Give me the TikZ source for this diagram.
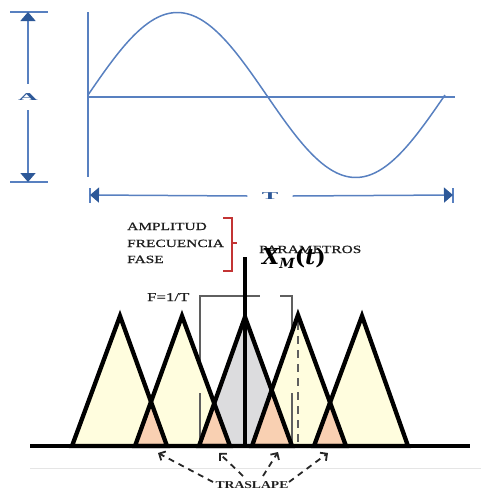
\documentclass[tikz,border=0pt]{standalone}
\usepackage{fontspec}
\usetikzlibrary{arrows.meta}
\newfontfamily\widefont[FakeStretch=1.4,FakeBold=0.8]{Liberation Serif}
\newfontfamily\widebold[FakeStretch=1.3]{Liberation Serif Bold}
\newfontfamily\xmfont{DejaVu Serif}
\definecolor{sineblue}{RGB}{88,128,192}
\definecolor{arrblue}{RGB}{45,88,152}
\definecolor{tyellow}{RGB}{255,253,222}
\definecolor{tgray}{RGB}{220,220,222}
\definecolor{torange}{RGB}{249,208,178}
\definecolor{bracered}{RGB}{195,52,52}
\definecolor{brgray}{RGB}{95,95,95}
\definecolor{txtgray}{RGB}{30,30,30}
\tikzset{
  blueline/.style={draw=sineblue, line width=1.5pt},
  bluearrow/.style={blueline, -{Triangle[length=9pt,width=15pt,fill=arrblue,color=arrblue]}},
  bluelabel/.style={text=arrblue, font=\widebold\fontsize{10}{10}\selectfont, inner sep=0pt},
  trioutline/.style={draw=black, line width=4.3pt, line join=miter},
  brk/.style={draw=brgray, line width=2pt},
  wtext/.style={text=txtgray, font=\widefont\fontsize{11}{11}\selectfont, inner sep=0pt, anchor=base west},
  overlaparrow/.style={draw=black!85, line width=1.8pt, dash pattern=on 6pt off 5pt, -{Straight Barb[length=5pt,width=10pt]}},
}
\begin{document}
\begin{tikzpicture}[x=1pt,y=-1pt]
\useasboundingbox (0,0) rectangle (481,491);
% ---------- top: sine wave ----------
\coordinate (atop) at (28,12);
\coordinate (abot) at (28,182);
\draw[blueline] (10,12) -- (48,12);
\draw[blueline] (10,182) -- (48,182);
\node[bluelabel, minimum height=26pt] (Alab) at (28,97) {\scalebox{2.1}[1.05]{A}};
\draw[bluearrow] (Alab.north) -- (atop);
\draw[bluearrow] (Alab.south) -- (abot);
\draw[blueline] (88,12) -- (88,177);
\draw[blueline] (88,97) -- (455,97);
\draw[blueline] plot[domain=0:357, samples=120, smooth] ({\x+88}, {95 - 82.5*sin(\x/357*360)});
\coordinate (tl) at (90,195);
\coordinate (tr) at (453,195);
\draw[blueline] (90,188) -- (90,203);
\draw[blueline] (453,188) -- (453,203);
\node[bluelabel, minimum width=45pt] (Tlab) at (270,196) {\scalebox{1.9}[1.05]{T}};
\draw[bluearrow] (Tlab.west) -- (tl);
\draw[bluearrow] (Tlab.east) -- (tr);
% ---------- bottom: triangles ----------
\draw[brk] (200,446) -- (200,296) -- (260,296);
\draw[brk] (280,296) -- (292,296) -- (292,446);
\def\triA{(72,446) -- (120,316) -- (167,446) -- cycle}
\def\triB{(135,446) -- (182,316) -- (230,446) -- cycle}
\def\triC{(199,446) -- (245,317) -- (292,446) -- cycle}
\def\triD{(252,446) -- (298,315) -- (346,446) -- cycle}
\def\triE{(314,446) -- (362,316) -- (408,446) -- cycle}
\fill[tyellow] \triA;
\fill[tyellow] \triB;
\fill[tgray] \triC;
\fill[tyellow] \triD;
\fill[tyellow] \triE;
\begin{scope}\clip \triA; \fill[torange] \triB; \end{scope}
\begin{scope}\clip \triB; \fill[torange] \triC; \end{scope}
\begin{scope}\clip \triC; \fill[torange] \triD; \end{scope}
\begin{scope}\clip \triD; \fill[torange] \triE; \end{scope}
\draw[brk, line width=2.5pt, dash pattern=on 8pt off 6pt] (298,322) -- (298,446);
\draw[brk] (200,393) -- (200,444);
\draw[brk] (292,393) -- (292,444);
\draw[trioutline] \triA;
\draw[trioutline] \triB;
\draw[trioutline] \triC;
\draw[trioutline] \triD;
\draw[trioutline] \triE;
\draw[black!10, line width=0.8pt] (30,468) -- (481,468);
\draw[black, line width=4pt] (30,446) -- (470,446);
\draw[black, line width=4pt] (245,257) -- (245,446);
% ---------- texts ----------
\node[wtext] (amp) at (127,230) {AMPLITUD};
\node[wtext] (frec) at (127,247) {FRECUENCIA};
\node[wtext] (fase) at (127,263) {FASE};
\draw[bracered, line width=1.2pt] (223,218) -- (232,218) -- (232,271) -- (223,271);
\draw[bracered, line width=1.2pt] (232,243) -- (237,243);
\node[wtext] (param) at (259,253) {PARAMETROS};
\node[inner sep=0pt, anchor=base west, text=black, font=\xmfont\bfseries\fontsize{22}{22}\selectfont] (xm) at (262,264) {\itshape X\raisebox{-4pt}{\fontsize{14}{14}\selectfont M}\upshape(\itshape t\upshape)};
\node[wtext, font=\widefont\fontsize{12}{12}\selectfont] (freq) at (147,301) {F=1/T};
\node[wtext, font=\widebold\fontsize{10.5}{10.5}\selectfont, anchor=base] (trasl) at (252,488) {TRASLAPE};
\coordinate (h1) at (158,453);
\coordinate (h2) at (219,453);
\coordinate (h3) at (278,452);
\coordinate (h4) at (328,453);
\coordinate (t1) at (213,482);
\coordinate (t2) at (243,476);
\coordinate (t3) at (263,476);
\coordinate (t4) at (289,482);
\draw[overlaparrow] (t1) -- (h1);
\draw[overlaparrow] (t2) -- (h2);
\draw[overlaparrow] (t3) -- (h3);
\draw[overlaparrow] (t4) -- (h4);
\end{tikzpicture}
\end{document}
